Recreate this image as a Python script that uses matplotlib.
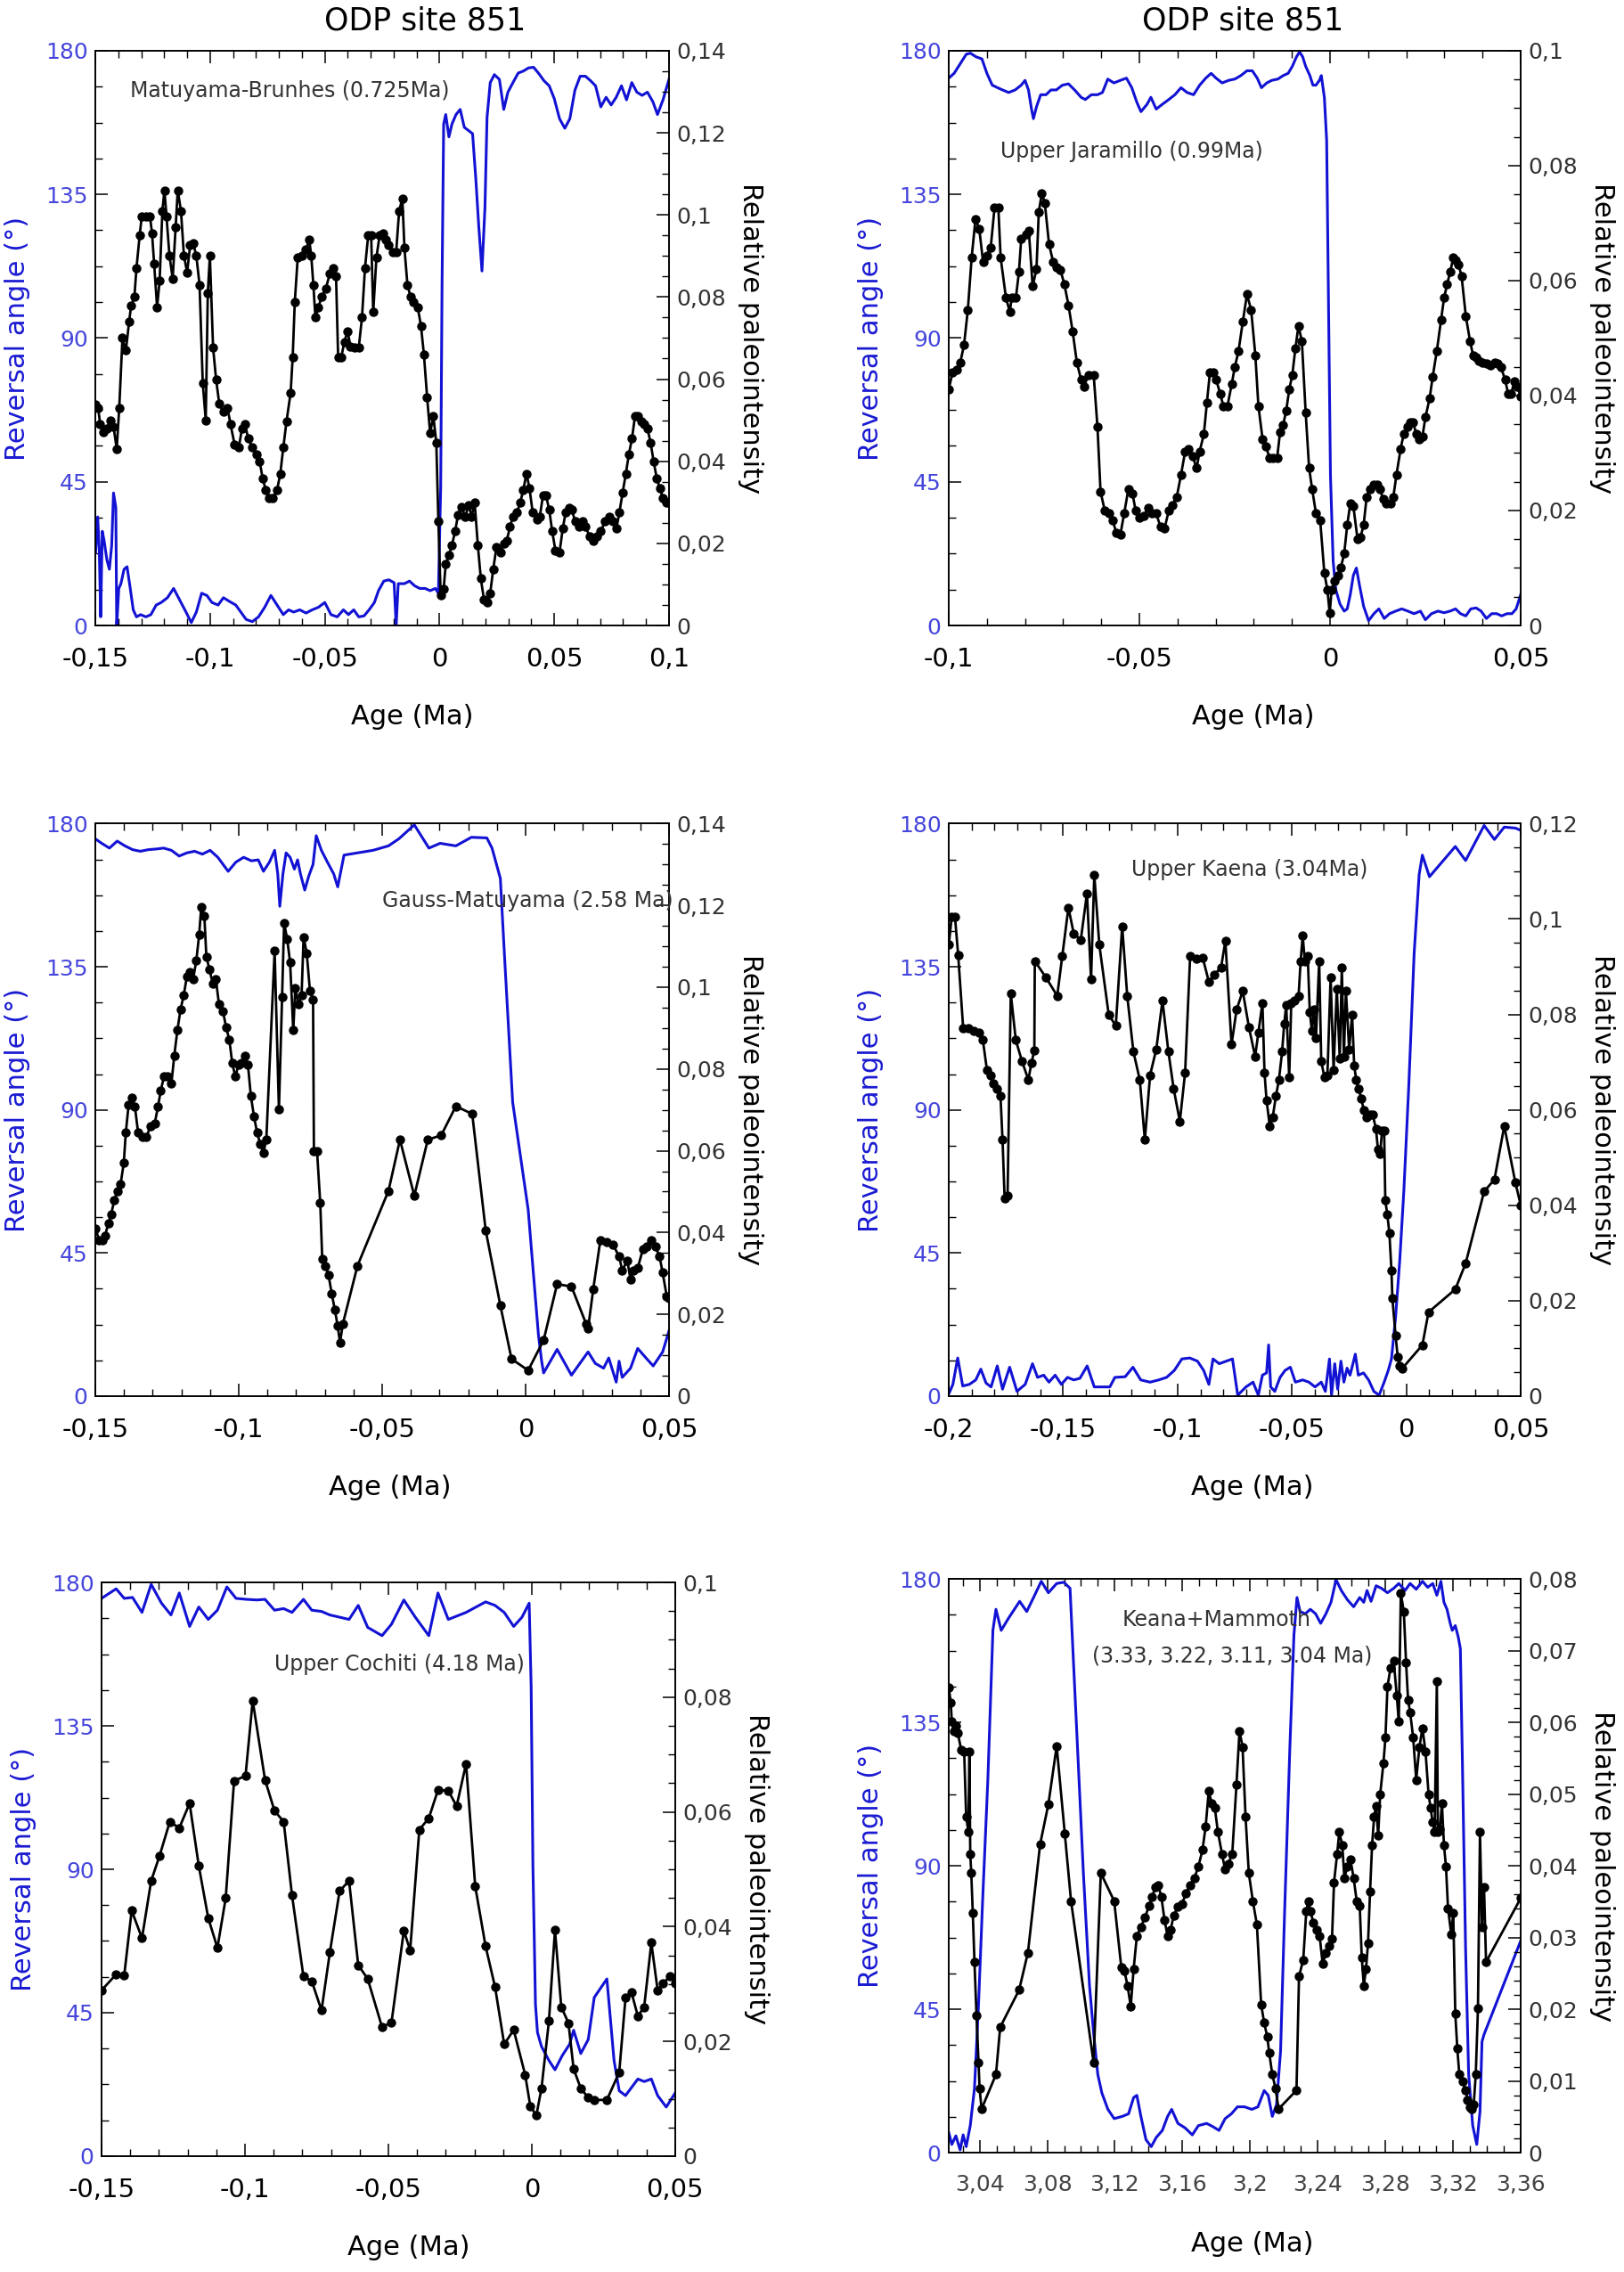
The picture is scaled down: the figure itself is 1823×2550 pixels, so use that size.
import matplotlib
matplotlib.use('Agg')
import matplotlib.pyplot as plt
from matplotlib.ticker import MultipleLocator, FuncFormatter
import numpy as np

# ---------------- data (age in Ma relative to reversal) ----------------
# Matuyama-Brunhes: (age, relative paleointensity)
mb_paleo = [(-0.1499, 0.0538), (-0.1488, 0.053), (-0.1479, 0.049), (-0.1465, 0.047), (-0.1450, 0.048),
            (-0.1434, 0.050), (-0.1421, 0.0485), (-0.1407, 0.043), (-0.1396, 0.053), (-0.1382, 0.070),
            (-0.1367, 0.067), (-0.1353, 0.074), (-0.1344, 0.078), (-0.1330, 0.080), (-0.1321, 0.087),
            (-0.1307, 0.095), (-0.1298, 0.0996), (-0.1280, 0.0996), (-0.1262, 0.0996), (-0.1253, 0.0955),
            (-0.1244, 0.088), (-0.1231, 0.0775), (-0.1220, 0.084), (-0.1208, 0.101), (-0.1199, 0.106),
            (-0.1190, 0.0996), (-0.1177, 0.090), (-0.1163, 0.0845), (-0.1150, 0.097), (-0.1141, 0.106),
            (-0.1127, 0.101), (-0.1114, 0.090), (-0.1100, 0.086), (-0.1087, 0.0926), (-0.1073, 0.093),
            (-0.1060, 0.090), (-0.1046, 0.083), (-0.1032, 0.059), (-0.1019, 0.050), (-0.1010, 0.081),
            (-0.1001, 0.090), (-0.0987, 0.0677), (-0.0974, 0.060), (-0.0960, 0.054), (-0.0942, 0.052),
            (-0.0924, 0.053), (-0.0911, 0.049), (-0.0893, 0.044), (-0.0875, 0.0433), (-0.0861, 0.048),
            (-0.0848, 0.049), (-0.0834, 0.0456), (-0.0816, 0.0433), (-0.0798, 0.0416), (-0.0784, 0.040),
            (-0.0771, 0.0358), (-0.0757, 0.033), (-0.0744, 0.031), (-0.0726, 0.031), (-0.0708, 0.033),
            (-0.0694, 0.037), (-0.0681, 0.0433), (-0.0667, 0.0497), (-0.0649, 0.0567), (-0.0640, 0.0654),
            (-0.0631, 0.0787), (-0.0618, 0.0897), (-0.0600, 0.090), (-0.0582, 0.0915), (-0.0568, 0.094),
            (-0.0559, 0.090), (-0.0550, 0.083), (-0.0541, 0.075), (-0.0528, 0.0775), (-0.0514, 0.080),
            (-0.0496, 0.082), (-0.0478, 0.0857), (-0.0464, 0.087), (-0.0451, 0.085), (-0.0442, 0.0654),
            (-0.0428, 0.0654), (-0.0415, 0.069), (-0.0401, 0.0717), (-0.0388, 0.068), (-0.0370, 0.0677),
            (-0.0352, 0.0677), (-0.0338, 0.075), (-0.0325, 0.087), (-0.0311, 0.095), (-0.0298, 0.095),
            (-0.0289, 0.0763), (-0.0275, 0.0897), (-0.0261, 0.095), (-0.0248, 0.0955), (-0.0234, 0.094),
            (-0.0221, 0.0926), (-0.0203, 0.091), (-0.0189, 0.091), (-0.0176, 0.101), (-0.0162, 0.104),
            (-0.0153, 0.092), (-0.0140, 0.083), (-0.0126, 0.080), (-0.0113, 0.0787), (-0.0095, 0.0775),
            (-0.0081, 0.073), (-0.0068, 0.066), (-0.0054, 0.0555), (-0.0041, 0.0468), (-0.0027, 0.051),
            (-0.0014, 0.0445), (-0.0005, 0.0253), (0.0005, 0.0073), (0.0018, 0.009), (0.0027, 0.0149),
            (0.0041, 0.0172), (0.0054, 0.0195), (0.0068, 0.023), (0.0081, 0.027), (0.0095, 0.0288),
            (0.0113, 0.0265), (0.0126, 0.0294), (0.0140, 0.0265), (0.0153, 0.030), (0.0167, 0.0195),
            (0.0180, 0.0114), (0.0194, 0.0062), (0.0207, 0.0056), (0.0221, 0.0079), (0.0234, 0.0137),
            (0.0248, 0.019), (0.0266, 0.0178), (0.0280, 0.020), (0.0293, 0.0207), (0.0307, 0.024),
            (0.0320, 0.0265), (0.0338, 0.0276), (0.0352, 0.030), (0.0365, 0.033), (0.0379, 0.037),
            (0.0392, 0.0334), (0.0406, 0.0276), (0.0424, 0.0259), (0.0437, 0.0265), (0.0451, 0.0317),
            (0.0464, 0.0317), (0.0478, 0.0282), (0.0491, 0.023), (0.0505, 0.0183), (0.0523, 0.0178),
            (0.0537, 0.0236), (0.0550, 0.0276), (0.0564, 0.0286), (0.0577, 0.0282), (0.0591, 0.0253),
            (0.0609, 0.024), (0.0622, 0.0253), (0.0636, 0.024), (0.0654, 0.0218), (0.0672, 0.0207),
            (0.0685, 0.0218), (0.0703, 0.023), (0.0721, 0.0253), (0.0739, 0.0265), (0.0757, 0.0253),
            (0.0771, 0.0236), (0.0784, 0.0276), (0.0798, 0.0323), (0.0812, 0.037), (0.0825, 0.0416),
            (0.0839, 0.0456), (0.0852, 0.051), (0.0866, 0.0511), (0.0879, 0.0497), (0.0893, 0.049),
            (0.0906, 0.048), (0.0920, 0.0445), (0.0933, 0.040), (0.0947, 0.0358), (0.0960, 0.0334),
            (0.0974, 0.031), (0.0987, 0.030), (0.1000, 0.030)]
# Matuyama-Brunhes: (age, reversal angle in degrees)
mb_angle = [(-0.1499, 22.8), (-0.1490, 34), (-0.1483, 23.6), (-0.1477, 2.7), (-0.1470, 29.5), (-0.1462, 26.6),
            (-0.1450, 20.6), (-0.1439, 17.6), (-0.1429, 25), (-0.1421, 41.5), (-0.1411, 37), (-0.1407, 0),
            (-0.1398, 11.6), (-0.1389, 13), (-0.1375, 17.6), (-0.1362, 18.4), (-0.1348, 11.6), (-0.1335, 4.9),
            (-0.1321, 2.7), (-0.1303, 3.4), (-0.1280, 2.7), (-0.1258, 3.4), (-0.1235, 6.4), (-0.1213, 7.2),
            (-0.1186, 8.7), (-0.1159, 11.6), (-0.1132, 7.9), (-0.1105, 4.2), (-0.1082, 0.9), (-0.1060, 4.2),
            (-0.1037, 10.1), (-0.1014, 9.4), (-0.0992, 7.2), (-0.0965, 6.4), (-0.0942, 8.7), (-0.0915, 7.5),
            (-0.0888, 6.4), (-0.0866, 4.2), (-0.0843, 1.9), (-0.0816, 1.2), (-0.0789, 2.7), (-0.0762, 5.7),
            (-0.0735, 9.4), (-0.0708, 6.4), (-0.0681, 3.4), (-0.0658, 4.9), (-0.0636, 4.2), (-0.0609, 4.9),
            (-0.0582, 3.9), (-0.0555, 4.9), (-0.0528, 5.7), (-0.0500, 7.2), (-0.0473, 3.4), (-0.0446, 2.7),
            (-0.0419, 4.9), (-0.0397, 3.4), (-0.0374, 4.9), (-0.0352, 2.7), (-0.0329, 3), (-0.0307, 4.9),
            (-0.0284, 7.2), (-0.0266, 10.9), (-0.0243, 13.9), (-0.0221, 14.3), (-0.0198, 13.4), (-0.0189, 0),
            (-0.0180, 13.1), (-0.0153, 13.1), (-0.0131, 13.9), (-0.0108, 12.4), (-0.0086, 11.6), (-0.0063, 11.6),
            (-0.0041, 10.9), (-0.0018, 11.6), (-0.0005, 10.1), (0.0005, 43), (0.0011, 107), (0.0018, 157),
            (0.0027, 160), (0.0041, 153), (0.0054, 157), (0.0072, 160), (0.0090, 161.6), (0.0108, 156),
            (0.0126, 155), (0.0144, 154), (0.0158, 140), (0.0171, 125), (0.0185, 111), (0.0198, 131),
            (0.0207, 159), (0.0221, 170), (0.0239, 172.5), (0.0261, 171), (0.0280, 161.6), (0.0298, 167),
            (0.0320, 170), (0.0343, 173), (0.0365, 173.6), (0.0388, 174.6), (0.0410, 174.8), (0.0433, 172.8),
            (0.0455, 170.6), (0.0478, 169), (0.0500, 165), (0.0523, 158.7), (0.0546, 155.7), (0.0568, 158.7),
            (0.0590, 167.6), (0.0613, 172), (0.0636, 172), (0.0658, 170.6), (0.0680, 169), (0.0703, 162.4),
            (0.0726, 165.4), (0.0748, 163), (0.0770, 165.4), (0.0793, 169), (0.0815, 164.6), (0.0838, 170),
            (0.0860, 167), (0.0883, 166), (0.0906, 167), (0.0930, 164), (0.0950, 160), (0.0974, 164.6),
            (0.1000, 171)]

# Upper Jaramillo
uj_paleo = [(-0.100, 0.0411), (-0.099, 0.0441), (-0.098, 0.0445), (-0.097, 0.0457), (-0.096, 0.0488),
            (-0.095, 0.0549), (-0.094, 0.064), (-0.093, 0.0707), (-0.092, 0.069), (-0.091, 0.0632),
            (-0.090, 0.0644), (-0.089, 0.0657), (-0.088, 0.0727), (-0.087, 0.0727), (-0.0864, 0.064),
            (-0.085, 0.057), (-0.084, 0.0546), (-0.0835, 0.057), (-0.0824, 0.057), (-0.0816, 0.0615),
            (-0.081, 0.0673), (-0.0797, 0.068), (-0.079, 0.0686), (-0.078, 0.059), (-0.077, 0.062),
            (-0.0764, 0.0719), (-0.0756, 0.0752), (-0.0748, 0.0734), (-0.0737, 0.0663), (-0.0726, 0.0632),
            (-0.0718, 0.0623), (-0.0707, 0.0618), (-0.0697, 0.0594), (-0.0686, 0.0557), (-0.0675, 0.0511),
            (-0.0664, 0.0457), (-0.0653, 0.0428), (-0.0645, 0.0416), (-0.0634, 0.0436), (-0.062, 0.0436),
            (-0.061, 0.0345), (-0.0602, 0.0233), (-0.0591, 0.020), (-0.058, 0.0195), (-0.057, 0.0183),
            (-0.0561, 0.0162), (-0.055, 0.0158), (-0.054, 0.0195), (-0.0529, 0.0237), (-0.0518, 0.0229),
            (-0.051, 0.020), (-0.0499, 0.0187), (-0.0488, 0.0191), (-0.0477, 0.0204), (-0.0467, 0.0195),
            (-0.0456, 0.0195), (-0.0445, 0.0172), (-0.0434, 0.0169), (-0.0423, 0.020), (-0.0413, 0.021),
            (-0.0402, 0.0224), (-0.0391, 0.0262), (-0.038, 0.0303), (-0.0372, 0.0307), (-0.0361, 0.0295),
            (-0.035, 0.0274), (-0.0342, 0.0303), (-0.0331, 0.0333), (-0.0323, 0.0388), (-0.0315, 0.0441),
            (-0.0307, 0.0441), (-0.0299, 0.0428), (-0.0288, 0.0403), (-0.028, 0.0382), (-0.0269, 0.0382),
            (-0.0258, 0.042), (-0.025, 0.0449), (-0.024, 0.0478), (-0.0229, 0.0528), (-0.0218, 0.0576),
            (-0.0207, 0.0549), (-0.0196, 0.047), (-0.0188, 0.0382), (-0.0177, 0.0324), (-0.0169, 0.0312),
            (-0.0158, 0.0291), (-0.015, 0.0291), (-0.0139, 0.0291), (-0.0131, 0.0337), (-0.0123, 0.0349),
            (-0.0115, 0.0374), (-0.0107, 0.0411), (-0.0099, 0.0436), (-0.0091, 0.0482), (-0.0083, 0.0521),
            (-0.0074, 0.0495), (-0.0064, 0.037), (-0.0055, 0.0274), (-0.0047, 0.0237), (-0.0037, 0.0195),
            (-0.0026, 0.0183), (-0.0015, 0.0091), (-0.0007, 0.0062), (-0.0001, 0.0021), (0.0004, 0.0062),
            (0.0012, 0.0077), (0.002, 0.0087), (0.0028, 0.010), (0.0037, 0.0125), (0.0045, 0.0175),
            (0.0053, 0.0212), (0.0061, 0.0208), (0.0072, 0.015), (0.008, 0.0154), (0.0088, 0.0175),
            (0.0096, 0.0224), (0.0104, 0.0237), (0.0115, 0.0245), (0.0123, 0.0245), (0.0131, 0.0237),
            (0.0139, 0.022), (0.0147, 0.0212), (0.0158, 0.0212), (0.0166, 0.0224), (0.0174, 0.0262),
            (0.0185, 0.0307), (0.0193, 0.0333), (0.0202, 0.0345), (0.021, 0.0353), (0.0218, 0.0353),
            (0.0226, 0.0333), (0.0234, 0.0324), (0.0242, 0.0328), (0.025, 0.0362), (0.0261, 0.0395),
            (0.0269, 0.0432), (0.028, 0.0478), (0.0291, 0.0532), (0.0299, 0.057), (0.0307, 0.0594),
            (0.0315, 0.0615), (0.0323, 0.064), (0.0329, 0.0636), (0.0337, 0.0628), (0.0345, 0.0607),
            (0.0356, 0.0538), (0.0367, 0.0495), (0.0375, 0.047), (0.0383, 0.0466), (0.0391, 0.0461),
            (0.0399, 0.0457), (0.041, 0.0455), (0.0421, 0.0453), (0.0431, 0.0457), (0.0439, 0.0455),
            (0.0448, 0.0449), (0.0459, 0.0428), (0.0467, 0.0403), (0.0475, 0.0403), (0.0483, 0.0424),
            (0.0491, 0.0416), (0.050, 0.0399)]
uj_angle = [(-0.100, 171.4), (-0.0986, 172.9), (-0.097, 175.9), (-0.0954, 178.9), (-0.0943, 179.2),
            (-0.0929, 178.1), (-0.0913, 177.4), (-0.090, 172.9), (-0.0886, 169.2), (-0.0872, 168.4),
            (-0.0859, 167.7), (-0.0843, 166.9), (-0.0826, 167.7), (-0.081, 169.2), (-0.080, 170.7),
            (-0.0791, 167.7), (-0.0783, 161.7), (-0.0778, 158.7), (-0.077, 162.4), (-0.0759, 166.2),
            (-0.0745, 166.2), (-0.0732, 167.7), (-0.0718, 167.7), (-0.0702, 169.2), (-0.0686, 169.6),
            (-0.067, 167.7), (-0.0653, 165.4), (-0.0642, 164.7), (-0.0626, 166.2), (-0.061, 166.2),
            (-0.0597, 166.9), (-0.0583, 171.1), (-0.0567, 169.9), (-0.055, 170.7), (-0.0534, 171.4),
            (-0.052, 168.4), (-0.0507, 163.9), (-0.0496, 160.9), (-0.048, 163.2), (-0.047, 165.4),
            (-0.0456, 161.7), (-0.044, 163.2), (-0.0423, 164.7), (-0.0407, 166.2), (-0.0391, 168.4),
            (-0.0375, 166.9), (-0.0358, 166.2), (-0.0342, 169.2), (-0.0326, 171.4), (-0.0312, 172.9),
            (-0.0299, 171.4), (-0.0283, 169.9), (-0.0266, 170.7), (-0.025, 171.1), (-0.0234, 172.2),
            (-0.0218, 173.7), (-0.0204, 173.7), (-0.0191, 171.4), (-0.018, 168.4), (-0.0166, 169.9),
            (-0.0153, 170.7), (-0.0137, 171.1), (-0.0123, 172.2), (-0.011, 172.9), (-0.0099, 175.1),
            (-0.0088, 178.1), (-0.008, 179.6), (-0.0072, 178.1), (-0.0064, 175.1), (-0.0053, 172.2),
            (-0.0045, 169.2), (-0.0037, 169.2), (-0.0028, 170.7), (-0.0023, 172.2), (-0.0015, 165.4),
            (-0.0009, 151.9), (-0.0007, 131), (-0.0003, 89), (0.0001, 47), (0.0008, 20.2), (0.0015, 11.2),
            (0.0026, 6.7), (0.0037, 4.5), (0.0045, 5.2), (0.0053, 9.7), (0.0061, 15.7), (0.0069, 18),
            (0.0077, 12.7), (0.0088, 6), (0.0101, 1.5), (0.0115, 3.7), (0.0128, 5.2), (0.0142, 2.2),
            (0.0156, 3.7), (0.0172, 4.5), (0.0188, 5.2), (0.0204, 4.5), (0.022, 3.7), (0.0237, 4.5),
            (0.025, 1.8), (0.0266, 3.7), (0.0283, 4.5), (0.0299, 4), (0.0315, 4.5), (0.0329, 5.2),
            (0.0342, 3.7), (0.0356, 3), (0.0369, 5.2), (0.0383, 5.5), (0.0396, 4.5), (0.041, 2.2),
            (0.0424, 3.7), (0.0437, 3.7), (0.045, 3), (0.0464, 3.7), (0.0477, 3.7), (0.0488, 5.2),
            (0.050, 9.7)]

# Gauss-Matuyama
gm_paleo = [(-0.150, 0.041), (-0.1487, 0.0382), (-0.1476, 0.0382), (-0.1466, 0.0393), (-0.1455, 0.0422),
            (-0.1445, 0.0445), (-0.1434, 0.0479), (-0.1423, 0.0502), (-0.1412, 0.0519), (-0.1401, 0.057),
            (-0.1394, 0.0644), (-0.1384, 0.0713), (-0.1373, 0.073), (-0.1362, 0.0707), (-0.1351, 0.0644),
            (-0.1336, 0.0633), (-0.1322, 0.0633), (-0.1308, 0.0661), (-0.1293, 0.0667), (-0.1282, 0.0707),
            (-0.1272, 0.0747), (-0.1261, 0.0781), (-0.125, 0.0781), (-0.1235, 0.0764), (-0.1225, 0.0832),
            (-0.1214, 0.0895), (-0.1203, 0.0946), (-0.1192, 0.098), (-0.1181, 0.1026), (-0.117, 0.1037),
            (-0.1159, 0.102), (-0.1148, 0.1066), (-0.1138, 0.1129), (-0.1131, 0.1195), (-0.112, 0.1174),
            (-0.1113, 0.1074), (-0.1102, 0.1043), (-0.1091, 0.1009), (-0.108, 0.102), (-0.1069, 0.0958),
            (-0.1055, 0.0941), (-0.1044, 0.0901), (-0.1033, 0.0872), (-0.1023, 0.0815), (-0.1012, 0.0781),
            (-0.1001, 0.081), (-0.099, 0.0815), (-0.0979, 0.0832), (-0.0968, 0.081), (-0.0958, 0.0735),
            (-0.0947, 0.0684), (-0.0936, 0.0644), (-0.0925, 0.0616), (-0.0914, 0.0595), (-0.0904, 0.0627),
            (-0.0875, 0.1089), (-0.086, 0.0701), (-0.0849, 0.0975), (-0.0842, 0.1157), (-0.0831, 0.1117),
            (-0.0821, 0.106), (-0.081, 0.0895), (-0.0803, 0.0998), (-0.0792, 0.0958), (-0.0781, 0.098),
            (-0.0774, 0.1123), (-0.0763, 0.1083), (-0.0752, 0.0992), (-0.0741, 0.0969), (-0.0738, 0.0598),
            (-0.0727, 0.0598), (-0.0716, 0.0473), (-0.0709, 0.0336), (-0.0698, 0.0319), (-0.0687, 0.0296),
            (-0.0676, 0.0251), (-0.0665, 0.0211), (-0.0655, 0.0171), (-0.0647, 0.0131), (-0.0637, 0.0177),
            (-0.0586, 0.0319), (-0.0478, 0.0502), (-0.0438, 0.0627), (-0.0388, 0.049), (-0.0341, 0.0627),
            (-0.0294, 0.0638), (-0.0243, 0.0709), (-0.0186, 0.069), (-0.0139, 0.0405), (-0.0088, 0.0222),
            (-0.0049, 0.0091), (0.0009, 0.0063), (0.0063, 0.0137), (0.011, 0.0274), (0.016, 0.0268),
            (0.0211, 0.0177), (0.0218, 0.0165), (0.0236, 0.0262), (0.0261, 0.0382), (0.0283, 0.0376),
            (0.0305, 0.037), (0.0326, 0.0342), (0.0337, 0.0308), (0.0355, 0.0331), (0.0366, 0.0285),
            (0.0377, 0.0308), (0.0391, 0.0313), (0.0409, 0.0359), (0.0424, 0.0365), (0.0438, 0.0382),
            (0.0453, 0.0365), (0.0467, 0.0342), (0.0478, 0.0302), (0.0492, 0.0245), (0.050, 0.0239)]
gm_angle = [(-0.150, 175.2), (-0.1478, 173.8), (-0.1451, 172.3), (-0.1424, 174.5), (-0.1397, 173),
            (-0.137, 171.8), (-0.1343, 171.3), (-0.1316, 171.8), (-0.1289, 172), (-0.1262, 172.3),
            (-0.1235, 171.6), (-0.1208, 169.8), (-0.1181, 170.8), (-0.1154, 171.3), (-0.1127, 170.4),
            (-0.110, 171.6), (-0.1073, 169.4), (-0.1037, 165), (-0.101, 167.9), (-0.0983, 169.4),
            (-0.0956, 168.3), (-0.0932, 168.6), (-0.0914, 165), (-0.0893, 167.9), (-0.0875, 171.6),
            (-0.0864, 164.2), (-0.0857, 154), (-0.0846, 164.2), (-0.0835, 170.8), (-0.0821, 169.4),
            (-0.0806, 165.7), (-0.0795, 168.6), (-0.0785, 164.2), (-0.077, 159.1), (-0.0756, 163.5),
            (-0.0741, 167.2), (-0.073, 176.2), (-0.0712, 171.6), (-0.0691, 167.9), (-0.0669, 164.2),
            (-0.0655, 160.1), (-0.0633, 170.1), (-0.0586, 170.8), (-0.0532, 171.6), (-0.0478, 173),
            (-0.0442, 175.2), (-0.0388, 179.6), (-0.0337, 172.3), (-0.0298, 173.8), (-0.0243, 173),
            (-0.0189, 175.7), (-0.0135, 175.5), (-0.0117, 172.3), (-0.0088, 162.8), (-0.0074, 139.3),
            (-0.0045, 92.4), (0.0009, 58.7), (0.0045, 19.1), (0.0056, 11), (0.0063, 7.3), (0.011, 14.7),
            (0.016, 6.6), (0.0218, 13.9), (0.0243, 10.3), (0.0272, 8.8), (0.029, 12), (0.0316, 4.4),
            (0.0326, 11), (0.0337, 5.9), (0.0366, 8.8), (0.0391, 15), (0.042, 12), (0.0445, 9.5),
            (0.0478, 13.9), (0.050, 20.5)]

# Upper Kaena
uk_paleo = [(-0.200, 0.0946), (-0.1987, 0.1005), (-0.1973, 0.1005), (-0.1959, 0.0925), (-0.1937, 0.0771),
            (-0.1914, 0.0771), (-0.1891, 0.0766), (-0.1869, 0.0761), (-0.1851, 0.0746), (-0.1833, 0.0683),
            (-0.1819, 0.0673), (-0.1806, 0.0656), (-0.1788, 0.0644), (-0.1774, 0.0629), (-0.1765, 0.0537),
            (-0.1756, 0.0415), (-0.1743, 0.042), (-0.1729, 0.0844), (-0.1707, 0.0746), (-0.168, 0.0702),
            (-0.1652, 0.0663), (-0.1639, 0.0698), (-0.1626, 0.0724), (-0.1624, 0.0912), (-0.1576, 0.0878),
            (-0.1526, 0.0839), (-0.1504, 0.0922), (-0.1477, 0.1024), (-0.1454, 0.097), (-0.1423, 0.0956),
            (-0.1396, 0.1054), (-0.1378, 0.0873), (-0.1364, 0.1093), (-0.1342, 0.0946), (-0.1301, 0.080),
            (-0.127, 0.0776), (-0.1242, 0.0985), (-0.122, 0.0839), (-0.1193, 0.0722), (-0.1165, 0.0663),
            (-0.1143, 0.0537), (-0.112, 0.0673), (-0.1093, 0.0727), (-0.1066, 0.0829), (-0.104, 0.0722),
            (-0.1017, 0.0644), (-0.099, 0.0576), (-0.0967, 0.0678), (-0.0945, 0.0922), (-0.0917, 0.0917),
            (-0.089, 0.0919), (-0.0863, 0.0868), (-0.0841, 0.0883), (-0.081, 0.0898), (-0.0791, 0.0954),
            (-0.0764, 0.0737), (-0.0742, 0.081), (-0.0715, 0.0849), (-0.0688, 0.0773), (-0.0661, 0.0712),
            (-0.0647, 0.0761), (-0.0629, 0.0824), (-0.062, 0.0678), (-0.0611, 0.062), (-0.0597, 0.0566),
            (-0.0584, 0.0585), (-0.057, 0.0629), (-0.0557, 0.0663), (-0.0543, 0.0722), (-0.0534, 0.078),
            (-0.0525, 0.082), (-0.0512, 0.0668), (-0.0503, 0.0824), (-0.049, 0.0829), (-0.0471, 0.0839),
            (-0.0462, 0.0912), (-0.0453, 0.0966), (-0.0444, 0.0912), (-0.0431, 0.0922), (-0.0422, 0.0805),
            (-0.0413, 0.0766), (-0.0404, 0.081), (-0.0395, 0.0751), (-0.0381, 0.0912), (-0.0372, 0.0702),
            (-0.0358, 0.0668), (-0.0345, 0.0673), (-0.0331, 0.0878), (-0.0318, 0.0683), (-0.0304, 0.0854),
            (-0.0291, 0.0707), (-0.0282, 0.0898), (-0.0273, 0.0712), (-0.0264, 0.0849), (-0.025, 0.0727),
            (-0.0237, 0.080), (-0.0228, 0.0693), (-0.0219, 0.0663), (-0.021, 0.0644), (-0.0196, 0.0624),
            (-0.0187, 0.060), (-0.0174, 0.0585), (-0.0158, 0.059), (-0.0147, 0.059), (-0.0133, 0.0561),
            (-0.0124, 0.0517), (-0.0115, 0.0507), (-0.0106, 0.0556), (-0.0097, 0.0556), (-0.0092, 0.041),
            (-0.0083, 0.038), (-0.0074, 0.0341), (-0.0065, 0.0263), (-0.0061, 0.0205), (-0.0047, 0.0127),
            (-0.0038, 0.0083), (-0.0029, 0.0063), (-0.002, 0.0057), (0.007, 0.0107), (0.0097, 0.0176),
            (0.0214, 0.0224), (0.0259, 0.0278), (0.034, 0.0429), (0.0385, 0.0454), (0.0428, 0.0566),
            (0.0476, 0.0449), (0.050, 0.040)]
uk_angle = [(-0.200, 0.7), (-0.1982, 3.7), (-0.1961, 12), (-0.1939, 3.2), (-0.191, 3.7), (-0.1882, 5.1),
            (-0.186, 8.5), (-0.1837, 4.1), (-0.1815, 2.9), (-0.1788, 9.5), (-0.1765, 2.2), (-0.1734, 9.1),
            (-0.1702, 1.5), (-0.1666, 3.7), (-0.1634, 10.2), (-0.1612, 5.9), (-0.1585, 6.6), (-0.1562, 4.4),
            (-0.1535, 6.6), (-0.1508, 3.7), (-0.1481, 5.9), (-0.1454, 5.1), (-0.1427, 5.6), (-0.1395, 9.5),
            (-0.1364, 2.9), (-0.133, 2.9), (-0.1296, 2.9), (-0.1274, 5.9), (-0.1229, 6.1), (-0.1195, 9.1),
            (-0.1161, 5.1), (-0.112, 4.4), (-0.1082, 5.1), (-0.1048, 5.9), (-0.1014, 8.1), (-0.0981, 11.7),
            (-0.0947, 12), (-0.0913, 11), (-0.0886, 8.1), (-0.0863, 3.7), (-0.0845, 11.7), (-0.0818, 10.2),
            (-0.0787, 11), (-0.076, 11.7), (-0.0737, 0.3), (-0.0701, 2.9), (-0.067, 4.4), (-0.0647, 0.3),
            (-0.0629, 6.6), (-0.0611, 7.3), (-0.0602, 16.1), (-0.0593, 2.9), (-0.0575, 1.5), (-0.0552, 5.9),
            (-0.053, 8.1), (-0.0507, 9.1), (-0.0485, 4.4), (-0.0453, 5.1), (-0.0426, 4.4), (-0.0399, 2.9),
            (-0.0372, 4.4), (-0.0354, 1.5), (-0.0336, 11.7), (-0.0327, 0.3), (-0.0313, 10.2), (-0.030, 2.2),
            (-0.0286, 11), (-0.0273, 4.4), (-0.0259, 8.8), (-0.0246, 6.6), (-0.0223, 13.2), (-0.021, 6.6),
            (-0.0187, 7.3), (-0.0165, 5.1), (-0.0142, 1.5), (-0.0119, 0.3), (-0.0097, 4.4), (-0.0079, 8.1),
            (-0.0065, 11.7), (-0.0047, 24.9), (-0.0029, 42.5), (-0.0011, 64.4), (0.0011, 98.1),
            (0.0034, 139.1), (0.0056, 164), (0.007, 170.1), (0.0101, 163.3), (0.0214, 172.8),
            (0.0259, 168.4), (0.034, 179.4), (0.0385, 175), (0.0428, 178.9), (0.0476, 178.6), (0.050, 177.9)]

# Upper Cochiti
uc_paleo = [(-0.150, 0.0289), (-0.1449, 0.0317), (-0.1421, 0.0315), (-0.1395, 0.0428), (-0.1359, 0.038),
            (-0.1327, 0.048), (-0.1298, 0.0523), (-0.1262, 0.0583), (-0.1229, 0.0572), (-0.1193, 0.0615),
            (-0.1161, 0.0506), (-0.1128, 0.0415), (-0.1096, 0.0363), (-0.1067, 0.045), (-0.1038, 0.0654),
            (-0.0998, 0.0663), (-0.0973, 0.0794), (-0.093, 0.0656), (-0.0897, 0.0602), (-0.0865, 0.0583),
            (-0.0836, 0.0455), (-0.0796, 0.0313), (-0.0767, 0.0305), (-0.0733, 0.0254), (-0.0704, 0.0355),
            (-0.067, 0.0462), (-0.0637, 0.048), (-0.0605, 0.0333), (-0.0572, 0.0309), (-0.0522, 0.0225),
            (-0.0489, 0.0233), (-0.0446, 0.0393), (-0.0424, 0.0359), (-0.0392, 0.0569), (-0.0359, 0.0589),
            (-0.0327, 0.0638), (-0.0291, 0.0637), (-0.0262, 0.061), (-0.0229, 0.0684), (-0.0197, 0.047),
            (-0.0161, 0.0366), (-0.0128, 0.0295), (-0.0096, 0.0195), (-0.0063, 0.022), (-0.0023, 0.0142),
            (-0.0005, 0.0087), (0.0016, 0.0071), (0.0034, 0.0118), (0.006, 0.0236), (0.0081, 0.0394),
            (0.0103, 0.026), (0.0128, 0.0232), (0.0146, 0.0152), (0.0171, 0.0118), (0.0197, 0.0102),
            (0.0218, 0.0098), (0.0262, 0.0098), (0.0305, 0.0146), (0.0327, 0.0276), (0.0348, 0.0285),
            (0.037, 0.0244), (0.0392, 0.026), (0.0417, 0.0372), (0.0439, 0.0289), (0.0457, 0.0301),
            (0.0482, 0.0313), (0.050, 0.0301)]
uc_angle = [(-0.150, 175), (-0.1473, 176.6), (-0.1449, 178), (-0.1421, 175), (-0.1392, 175.3), (-0.1359, 170.6),
            (-0.1327, 179.4), (-0.1291, 173.5), (-0.1258, 169.8), (-0.1229, 176.7), (-0.1193, 166.2),
            (-0.1161, 172.3), (-0.1128, 168.4), (-0.1096, 171.3), (-0.1063, 178.6), (-0.1031, 175),
            (-0.0995, 174.7), (-0.0958, 174.5), (-0.093, 174.7), (-0.0897, 171.3), (-0.0865, 171.8),
            (-0.0836, 170.6), (-0.0796, 174.7), (-0.0767, 171.3), (-0.0733, 170.9), (-0.0704, 169.8),
            (-0.067, 169.1), (-0.0637, 168.4), (-0.0605, 172.8), (-0.0572, 165.9), (-0.0522, 163.3),
            (-0.0489, 166.9), (-0.0446, 174.5), (-0.0406, 169.1), (-0.0359, 163.3), (-0.0327, 176.7),
            (-0.0291, 168.4), (-0.0229, 170.6), (-0.0161, 173.9), (-0.0128, 172.8), (-0.0096, 170.6),
            (-0.0063, 166.2), (-0.0034, 169.1), (-0.0009, 173.5), (-0.0002, 147), (0.0004, 91.5),
            (0.0013, 47.6), (0.002, 38.8), (0.0034, 34.4), (0.006, 30), (0.0081, 27.1), (0.0106, 31.5),
            (0.0132, 35.1), (0.0146, 39.5), (0.0171, 32.2), (0.0197, 36.6), (0.0218, 49.8), (0.0262, 55.6),
            (0.0287, 30), (0.0305, 20.5), (0.0327, 19), (0.037, 24.2), (0.0392, 23.4), (0.0417, 24.2),
            (0.0439, 19), (0.0469, 15.4), (0.050, 19.8)]

# Kaena + Mammoth (absolute age, Ma)
km_paleo = [(3.0218, 0.0649), (3.023, 0.0627), (3.0236, 0.0601), (3.0248, 0.0588), (3.026, 0.0595),
            (3.0272, 0.0585), (3.0291, 0.0562), (3.0309, 0.0559), (3.0321, 0.0468), (3.0334, 0.0448),
            (3.034, 0.0559), (3.0345, 0.0416), (3.0351, 0.039), (3.036, 0.0334), (3.037, 0.0266),
            (3.0382, 0.0191), (3.0394, 0.0126), (3.040, 0.009), (3.0412, 0.0061), (3.0497, 0.0109),
            (3.0522, 0.0175), (3.0634, 0.0227), (3.0686, 0.0279), (3.0758, 0.043), (3.0807, 0.0486),
            (3.0856, 0.0567), (3.0904, 0.0445), (3.0941, 0.0351), (3.1074, 0.0126), (3.1117, 0.039),
            (3.1196, 0.0351), (3.1238, 0.0259), (3.1257, 0.0253), (3.1275, 0.0233), (3.1294, 0.0204),
            (3.1311, 0.0256), (3.133, 0.0302), (3.1354, 0.0315), (3.1378, 0.0328), (3.1402, 0.0344),
            (3.1421, 0.0357), (3.1439, 0.037), (3.1457, 0.0373), (3.1475, 0.0357), (3.1494, 0.0324),
            (3.1512, 0.0302), (3.153, 0.0311), (3.1548, 0.0331), (3.1573, 0.0343), (3.1597, 0.0347),
            (3.1621, 0.0362), (3.1645, 0.0373), (3.167, 0.0383), (3.1694, 0.0399), (3.1718, 0.0422),
            (3.1737, 0.0455), (3.1755, 0.0504), (3.1773, 0.0487), (3.1791, 0.0481), (3.1809, 0.0448),
            (3.1834, 0.0416), (3.1852, 0.0395), (3.187, 0.0403), (3.1894, 0.0416), (3.1919, 0.0513),
            (3.1937, 0.0588), (3.1955, 0.0566), (3.1973, 0.0468), (3.1992, 0.039), (3.2016, 0.0351),
            (3.204, 0.0318), (3.2065, 0.0207), (3.2083, 0.0181), (3.2101, 0.0162), (3.2113, 0.0139),
            (3.2131, 0.0109), (3.215, 0.009), (3.2168, 0.0061), (3.2274, 0.0087), (3.2289, 0.0246),
            (3.2314, 0.0269), (3.2332, 0.0337), (3.2344, 0.0351), (3.2356, 0.0337), (3.2374, 0.0321),
            (3.2393, 0.0311), (3.2411, 0.0302), (3.2429, 0.0263), (3.2448, 0.0279), (3.2466, 0.0289),
            (3.2484, 0.0298), (3.2496, 0.0377), (3.2514, 0.0416), (3.2527, 0.0447), (3.2545, 0.0429),
            (3.2557, 0.0383), (3.2575, 0.0399), (3.2593, 0.0409), (3.2612, 0.0383), (3.263, 0.0351),
            (3.2648, 0.0344), (3.266, 0.0272), (3.2672, 0.0233), (3.2685, 0.0256), (3.2697, 0.0292),
            (3.2709, 0.0364), (3.2721, 0.0429), (3.2733, 0.0468), (3.2745, 0.0484), (3.2757, 0.0442),
            (3.2769, 0.050), (3.2788, 0.0543), (3.280, 0.0579), (3.2812, 0.065), (3.283, 0.0676),
            (3.2849, 0.0686), (3.2867, 0.0637), (3.2879, 0.0601), (3.2891, 0.078), (3.2909, 0.0754),
            (3.2922, 0.0683), (3.2934, 0.0631), (3.2946, 0.0614), (3.2964, 0.0579), (3.2982, 0.052),
            (3.3001, 0.0566), (3.3019, 0.0592), (3.3037, 0.0559), (3.3055, 0.050), (3.3067, 0.0481),
            (3.3079, 0.0461), (3.3091, 0.0448), (3.3104, 0.0657), (3.311, 0.0448), (3.3122, 0.0451),
            (3.3134, 0.0487), (3.3146, 0.0429), (3.3158, 0.0399), (3.317, 0.0341), (3.3189, 0.0305),
            (3.3201, 0.0334), (3.3213, 0.0194), (3.3225, 0.0145), (3.3237, 0.0109), (3.3255, 0.010),
            (3.3274, 0.0087), (3.3286, 0.0074), (3.3298, 0.0064), (3.331, 0.0061), (3.3322, 0.0067),
            (3.3334, 0.0109), (3.3347, 0.0201), (3.3359, 0.0447), (3.3371, 0.0315), (3.3383, 0.037),
            (3.3395, 0.0266), (3.360, 0.0355)]
km_angle = [(3.0218, 6.3), (3.0236, 2.6), (3.026, 5.3), (3.0285, 0.9), (3.0303, 5.6), (3.0321, 1.9),
            (3.0345, 8.5), (3.037, 20.2), (3.0394, 46.6), (3.0418, 78.9), (3.0449, 117), (3.0479, 163.9),
            (3.0497, 170.5), (3.0528, 163.9), (3.057, 167.6), (3.0637, 173), (3.0679, 169.8), (3.0722, 174.5),
            (3.0765, 179.3), (3.0807, 175.7), (3.0856, 178.6), (3.0898, 179), (3.0935, 177.1), (3.0953, 156.6),
            (3.0983, 122.9), (3.1014, 87.7), (3.105, 52.5), (3.1074, 37.8), (3.1099, 24.6), (3.1123, 18.8),
            (3.1159, 13.6), (3.1196, 10.7), (3.1244, 11.4), (3.1281, 12.2), (3.1311, 17.3), (3.133, 18),
            (3.1354, 11.4), (3.1384, 4.1), (3.1415, 1.9), (3.1445, 4.8), (3.1481, 7), (3.1512, 11.4),
            (3.1536, 13.6), (3.1573, 9.2), (3.1615, 7.8), (3.1658, 5.6), (3.1694, 8.5), (3.1743, 9.2),
            (3.1779, 8.2), (3.1816, 7), (3.1852, 10.7), (3.1889, 12.2), (3.1925, 14.4), (3.1967, 14.4),
            (3.201, 13.6), (3.2046, 14.4), (3.2083, 19.5), (3.2107, 18), (3.2131, 11.4), (3.2156, 15.1),
            (3.218, 32), (3.2204, 76), (3.2235, 127.3), (3.2259, 162.5), (3.2277, 174.2), (3.2295, 169.8),
            (3.2326, 169.1), (3.2356, 170.5), (3.2387, 169.1), (3.2417, 166.1), (3.2448, 169.1), (3.2478, 172.7),
            (3.2508, 179.8), (3.2539, 176.4), (3.2575, 173.5), (3.2612, 171.3), (3.2648, 174.2), (3.2672, 172.7),
            (3.2691, 176.4), (3.2715, 173), (3.2745, 177.9), (3.2776, 177.1), (3.2812, 175.7), (3.2849, 177.1),
            (3.2879, 178.6), (3.2916, 176.4), (3.2946, 178.6), (3.2982, 176.8), (3.3019, 179.3), (3.305, 177.4),
            (3.308, 178.6), (3.3104, 174.9), (3.3128, 179.3), (3.3146, 172.7), (3.3164, 170.5), (3.3183, 166.1),
            (3.3195, 163.9), (3.3213, 165.4), (3.3231, 161.7), (3.3243, 158.1), (3.3255, 122.9), (3.3274, 63.9),
            (3.3292, 24.6), (3.3316, 8.5), (3.334, 2.6), (3.3359, 12.9), (3.3371, 34.9), (3.3383, 37.1),
            (3.360, 66.5)]

BLUE = '#1212d4'
BLUE_TXT = '#4646dc'
BLUE_LBL = '#1a1ad2'


def comma(v, pos):
    v = round(v, 6) + 0.0
    return ('%g' % v).replace('.', ',')


def panel(rect, paleo, angle, xlim, xmaj, xmin, y2max, y2maj, y2min, labels, xlab_x,
          xtick_size=21, xtick_color='black'):
    ax = fig.add_axes(rect)
    ax2 = ax.twinx()
    a = np.array(angle)
    p = np.array(paleo)
    ax.plot(a[:, 0], a[:, 1], color=BLUE, lw=2.2)
    ax2.plot(p[:, 0], p[:, 1], color='black', lw=2.0, marker='o', ms=6.5)
    ax.set_xlim(xlim)
    ax.set_ylim(0, 180)
    ax2.set_ylim(0, y2max)

    ax.xaxis.set_major_locator(MultipleLocator(xmaj))
    ax.xaxis.set_minor_locator(MultipleLocator(xmin))
    ax.xaxis.set_major_formatter(FuncFormatter(comma))
    ax.yaxis.set_major_locator(MultipleLocator(45))
    ax.yaxis.set_minor_locator(MultipleLocator(11.25))
    ax2.yaxis.set_major_locator(MultipleLocator(y2maj))
    ax2.yaxis.set_minor_locator(MultipleLocator(y2min))
    ax2.yaxis.set_major_formatter(FuncFormatter(comma))

    ax.tick_params(axis='x', which='both', direction='in', top=True, bottom=True,
                   labelsize=xtick_size, labelcolor=xtick_color, pad=17)
    ax.tick_params(axis='y', which='both', direction='in', left=True, right=False,
                   labelsize=18, labelcolor=BLUE_TXT, pad=6)
    ax2.tick_params(axis='y', which='both', direction='in', left=False, right=True,
                    labelsize=18, labelcolor='#333333', pad=6)
    for a_ in (ax, ax2):
        a_.tick_params(which='major', length=10, width=1.1)
        a_.tick_params(which='minor', length=6, width=1.0)
        for s in a_.spines.values():
            s.set_linewidth(1.2)

    ax.set_xlabel('Age (Ma)', fontsize=22)
    ax.xaxis.set_label_coords(xlab_x, -0.137)
    ax.set_ylabel('Reversal angle (°)', fontsize=22, color=BLUE_LBL, labelpad=12)
    ax2.set_ylabel('Relative paleointensity', fontsize=22, rotation=270, labelpad=30)
    for text, lx, ly, ha in labels:
        ax2.text(lx, ly, text, transform=ax.transAxes, fontsize=17, color='#333333',
                 ha=ha, va='center')
    return ax, ax2


fig = plt.figure(figsize=(18.24, 25.5), dpi=100)

panel([0.0587, 0.7247, 0.353, 0.253], mb_paleo, mb_angle, (-0.15, 0.1), 0.05, 0.01, 0.14, 0.02, 0.005,
      [('Matuyama-Brunhes (0.725Ma)', 0.06, 0.93, 'left')], 0.553)
panel([0.5839, 0.7247, 0.352, 0.253], uj_paleo, uj_angle, (-0.1, 0.05), 0.05, 0.01, 0.1, 0.02, 0.005,
      [('Upper Jaramillo (0.99Ma)', 0.09, 0.825, 'left')], 0.532)
panel([0.0587, 0.3855, 0.353, 0.252], gm_paleo, gm_angle, (-0.15, 0.05), 0.05, 0.01, 0.14, 0.02, 0.005,
      [('Gauss-Matuyama (2.58 Ma)', 0.50, 0.865, 'left')], 0.513)
panel([0.5839, 0.3855, 0.352, 0.252], uk_paleo, uk_angle, (-0.2, 0.05), 0.05, 0.01, 0.12, 0.02, 0.005,
      [('Upper Kaena (3.04Ma)', 0.319, 0.919, 'left')], 0.53)
panel([0.0625, 0.051, 0.353, 0.2525], uc_paleo, uc_angle, (-0.15, 0.05), 0.05, 0.01, 0.1, 0.02, 0.005,
      [('Upper Cochiti (4.18 Ma)', 0.302, 0.858, 'left')], 0.535)
panel([0.5839, 0.0525, 0.352, 0.2525], km_paleo, km_angle, (3.0218, 3.36), 0.04, 0.01, 0.08, 0.01, 0.002,
      [('Keana+Mammoth', 0.468, 0.929, 'center'),
       ('(3.33, 3.22, 3.11, 3.04 Ma)', 0.496, 0.866, 'center')], 0.53,
      xtick_size=18, xtick_color='#444444')

fig.text(477 / 1824, 1 - 23 / 2550, 'ODP site 851', fontsize=25, ha='center', va='center')
fig.text(1395 / 1824, 1 - 23 / 2550, 'ODP site 851', fontsize=25, ha='center', va='center')

fig.savefig('out.png', dpi=100)
